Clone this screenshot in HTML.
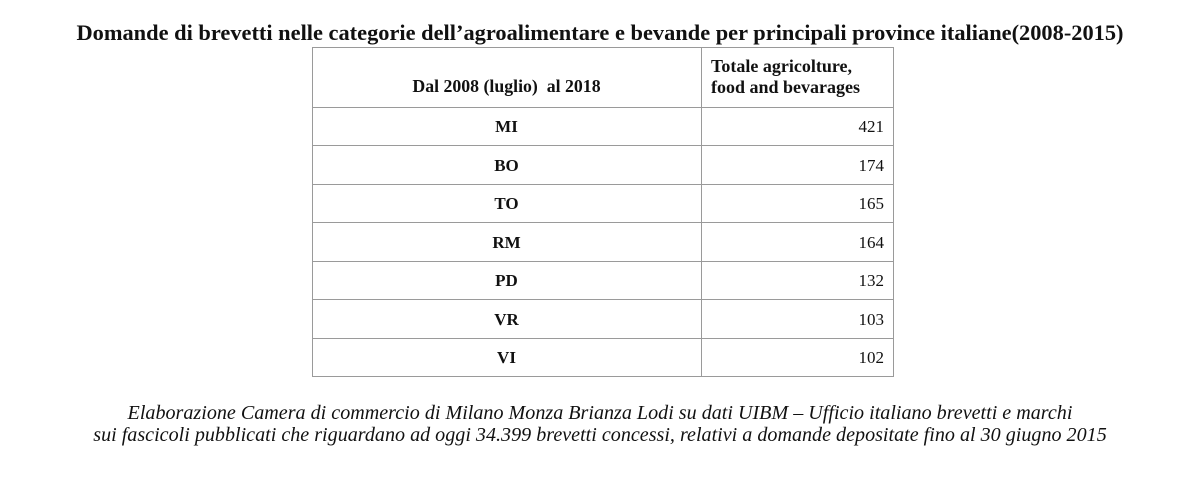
<!DOCTYPE html>
<html><head><meta charset="utf-8"><style>
body{margin:0;width:1200px;height:481px;background:#fff;position:relative;font-family:"Liberation Serif",serif;color:#111;overflow:hidden}
.t{position:absolute;white-space:nowrap}
.h{position:absolute;background:#9a9a9a;height:1px}
.v{position:absolute;background:#9a9a9a;width:1px}
.b{font-weight:bold}
</style></head><body>
<div class="t b" style="left:0;width:1200px;text-align:center;top:20px;font-size:22.4px">Domande di brevetti nelle categorie dell’agroalimentare e bevande per principali province italiane(2008-2015)</div>
<div class="v" style="left:312px;top:47px;height:330px"></div>
<div class="v" style="left:701px;top:47px;height:330px"></div>
<div class="v" style="left:893px;top:47px;height:330px"></div>
<div class="h" style="left:312px;width:582px;top:47px"></div>
<div class="h" style="left:312px;width:582px;top:107px"></div>
<div class="h" style="left:312px;width:582px;top:145px"></div>
<div class="h" style="left:312px;width:582px;top:184px"></div>
<div class="h" style="left:312px;width:582px;top:222px"></div>
<div class="h" style="left:312px;width:582px;top:261px"></div>
<div class="h" style="left:312px;width:582px;top:299px"></div>
<div class="h" style="left:312px;width:582px;top:338px"></div>
<div class="h" style="left:312px;width:582px;top:376px"></div>
<div class="t b" style="left:312px;width:389px;text-align:center;top:76px;font-size:17.8px">Dal 2008 (luglio)&nbsp; al 2018</div>
<div class="t b" style="left:711px;top:56px;font-size:18px;line-height:21px">Totale agricolture,<br>food and bevarages</div>
<div class="t b" style="left:312px;width:389px;text-align:center;top:117px;font-size:17px">MI</div>
<div class="t b" style="left:312px;width:389px;text-align:center;top:156px;font-size:17px">BO</div>
<div class="t b" style="left:312px;width:389px;text-align:center;top:194px;font-size:17px">TO</div>
<div class="t b" style="left:312px;width:389px;text-align:center;top:233px;font-size:17px">RM</div>
<div class="t b" style="left:312px;width:389px;text-align:center;top:271px;font-size:17px">PD</div>
<div class="t b" style="left:312px;width:389px;text-align:center;top:310px;font-size:17px">VR</div>
<div class="t b" style="left:312px;width:389px;text-align:center;top:348px;font-size:17px">VI</div>
<div class="t" style="right:316px;top:117px;font-size:17px">421</div>
<div class="t" style="right:316px;top:156px;font-size:17px">174</div>
<div class="t" style="right:316px;top:194px;font-size:17px">165</div>
<div class="t" style="right:316px;top:233px;font-size:17px">164</div>
<div class="t" style="right:316px;top:271px;font-size:17px">132</div>
<div class="t" style="right:316px;top:310px;font-size:17px">103</div>
<div class="t" style="right:316px;top:348px;font-size:17px">102</div>
<div class="t" style="left:0;width:1200px;text-align:center;top:402px;font-size:20.1px;font-style:italic;line-height:22px">Elaborazione Camera di commercio di Milano Monza Brianza Lodi su dati UIBM – Ufficio italiano brevetti e marchi<br>sui fascicoli pubblicati che riguardano ad oggi 34.399 brevetti concessi, relativi a domande depositate fino al 30 giugno 2015</div>
</body></html>
